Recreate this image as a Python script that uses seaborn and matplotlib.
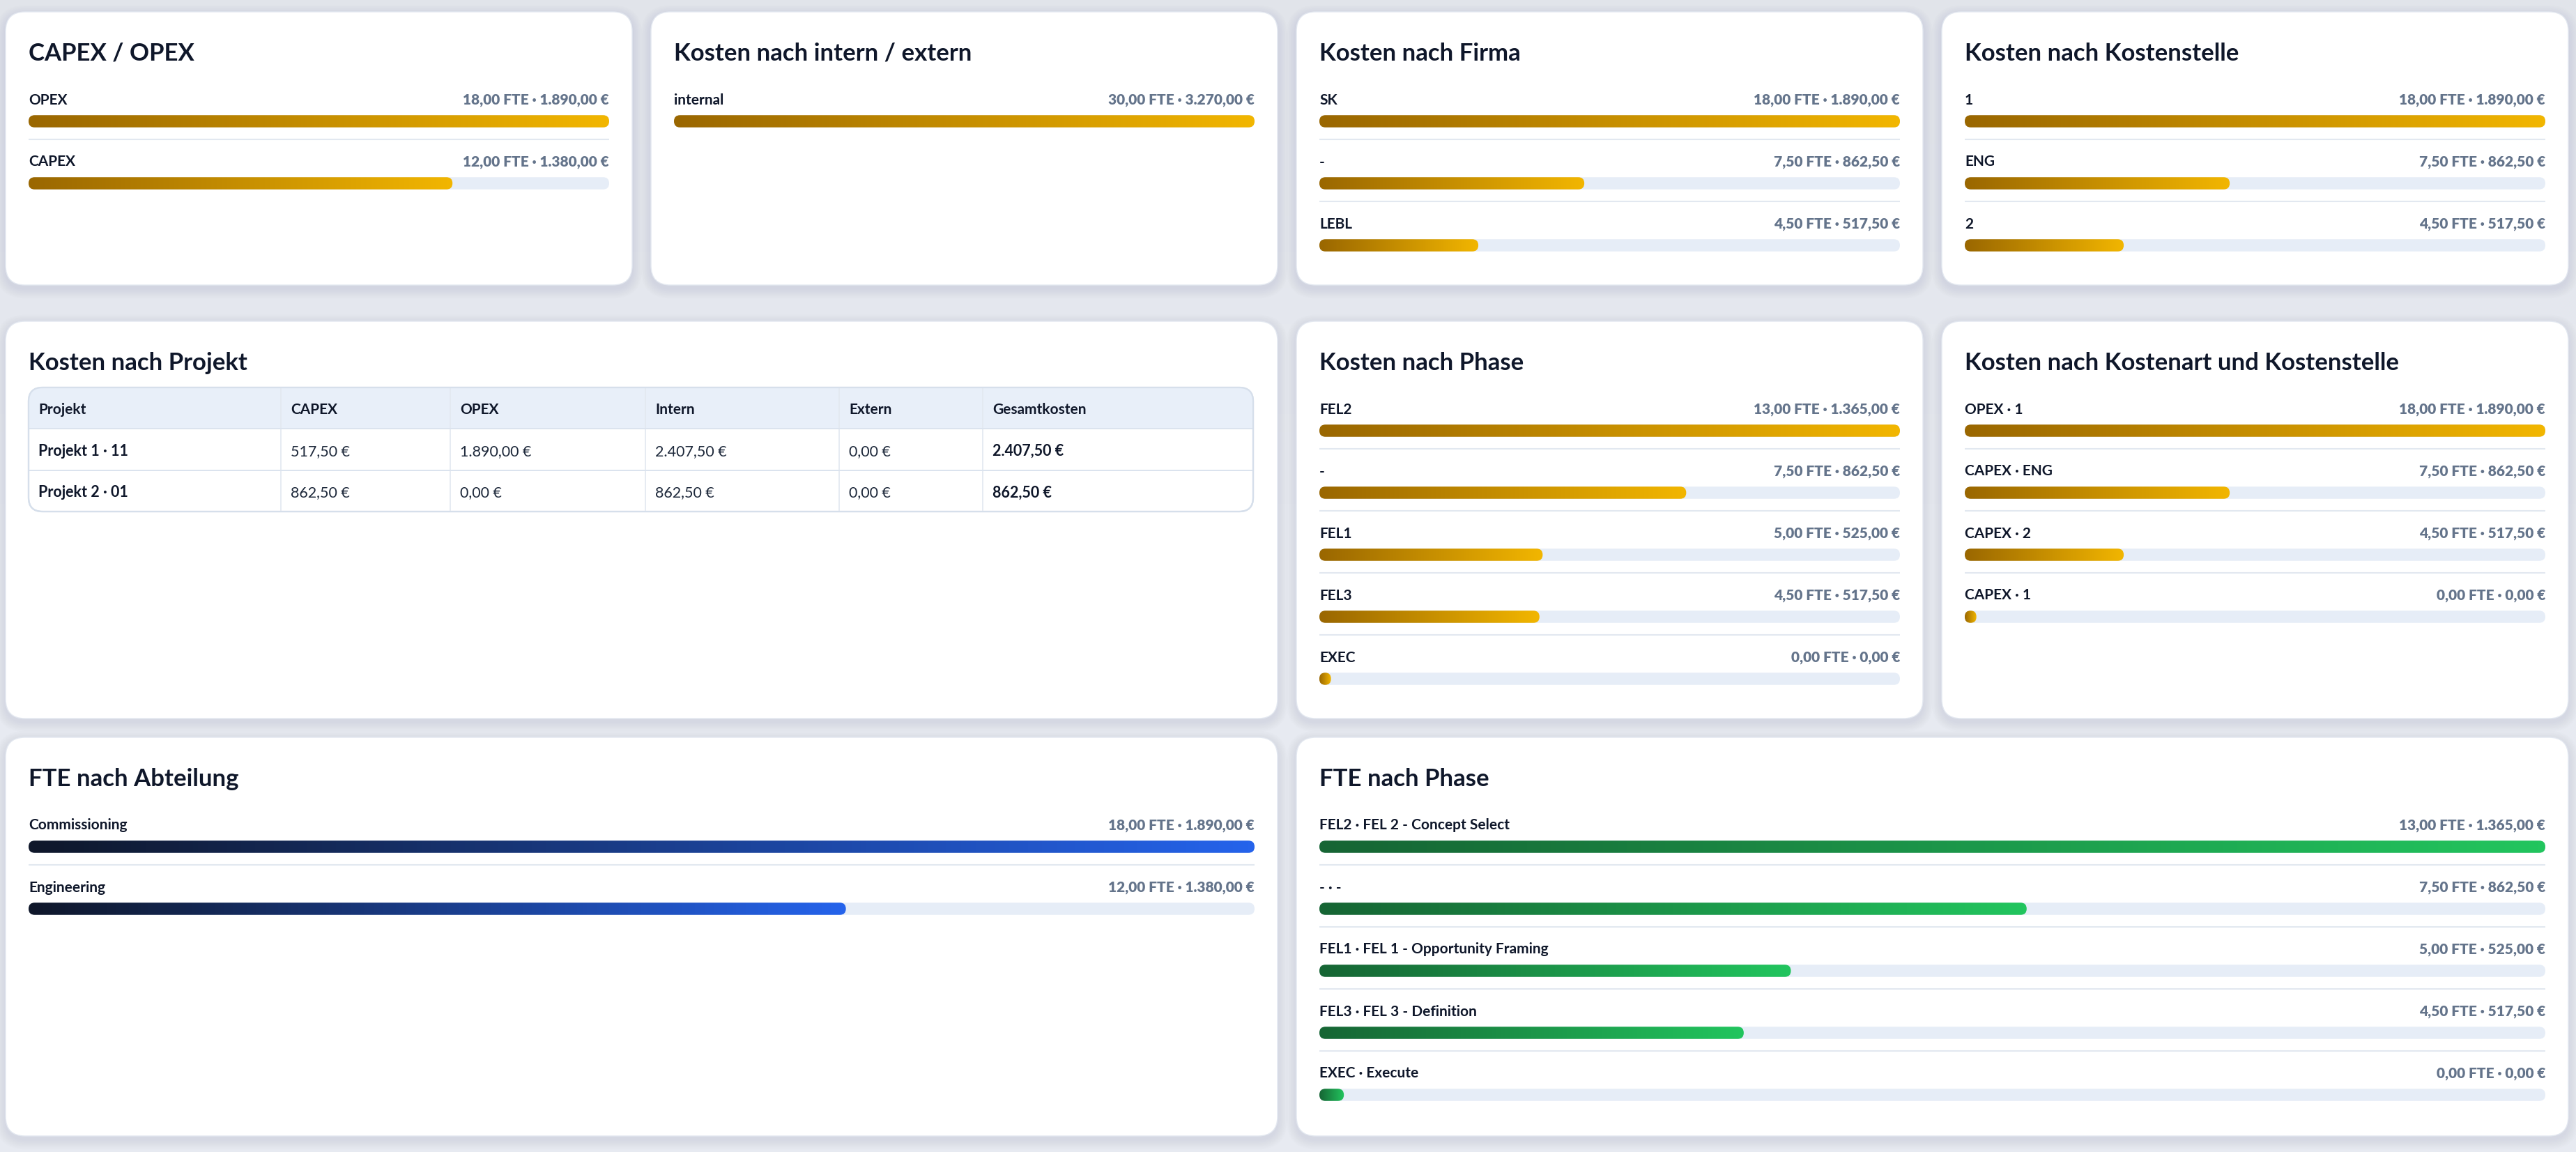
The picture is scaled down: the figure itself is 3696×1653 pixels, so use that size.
import numpy as np
import pandas as pd
import matplotlib
matplotlib.use("Agg")
import matplotlib.pyplot as plt
import seaborn as sns
from matplotlib.patches import FancyBboxPatch, Rectangle
from matplotlib.colors import LinearSegmentedColormap

# ---------------- data ----------------
capex_opex_labels = ["OPEX", "CAPEX"]
capex_opex_fte = [18.0, 12.0]
capex_opex_cost = [1890.0, 1380.0]

intern_labels = ["internal"]
intern_fte = [30.0]
intern_cost = [3270.0]

firma_labels = ["SK", "-", "LEBL"]
firma_fte = [18.0, 7.5, 4.5]
firma_cost = [1890.0, 862.5, 517.5]

kst_labels = ["1", "ENG", "2"]
kst_fte = [18.0, 7.5, 4.5]
kst_cost = [1890.0, 862.5, 517.5]

phase_labels = ["FEL2", "-", "FEL1", "FEL3", "EXEC"]
phase_fte = [13.0, 7.5, 5.0, 4.5, 0.0]
phase_cost = [1365.0, 862.5, 525.0, 517.5, 0.0]

kostenart_labels = ["OPEX · 1", "CAPEX · ENG", "CAPEX · 2", "CAPEX · 1"]
kostenart_fte = [18.0, 7.5, 4.5, 0.0]
kostenart_cost = [1890.0, 862.5, 517.5, 0.0]

abt_labels = ["Commissioning", "Engineering"]
abt_fte = [18.0, 12.0]
abt_cost = [1890.0, 1380.0]

fte_phase_labels = ["FEL2 · FEL 2 - Concept Select", "- · -",
                    "FEL1 · FEL 1 - Opportunity Framing",
                    "FEL3 · FEL 3 - Definition", "EXEC · Execute"]
fte_phase_fte = [13.0, 7.5, 5.0, 4.5, 0.0]
fte_phase_cost = [1365.0, 862.5, 525.0, 517.5, 0.0]

table_columns = ["Projekt", "CAPEX", "OPEX", "Intern", "Extern", "Gesamtkosten"]
table_projects = ["Projekt 1 · 11", "Projekt 2 · 01"]
table_capex = [517.5, 862.5]
table_opex = [1890.0, 0.0]
table_intern = [2407.5, 862.5]
table_extern = [0.0, 0.0]
table_total = [2407.5, 862.5]

# ---------------- style ----------------
sns.set_theme(style="white")
plt.rcParams['font.family'] = ['Lato', 'DejaVu Sans']

W, H = 3696, 1653
TITLE_C = "#0f172a"
LABEL_C = "#0f172a"
VALUE_C = "#64748b"
TRACK_C = "#e6edf7"
SEP_C = "#e2e8f0"
PITCH = 89.0
BH_PX = 17.5
BH = BH_PX / PITCH

gold = LinearSegmentedColormap.from_list("gold", ["#9a6700", "#f2b600"])
green = LinearSegmentedColormap.from_list("green", ["#166534", "#22c55e"])
blue = LinearSegmentedColormap.from_list("blue", ["#0f172a", "#2563eb"])


def de(v):
    s = f"{v:,.2f}"
    return s.replace(",", "X").replace(".", ",").replace("X", ".")


fig = plt.figure(figsize=(W / 100, H / 100), dpi=100)
fig.patch.set_facecolor("#e8ebf1")
bg = fig.add_axes([0, 0, 1, 1])
bg.imshow(np.linspace(0, 1, 64).reshape(-1, 1), extent=[0, W, H, 0],
          cmap=LinearSegmentedColormap.from_list("bgc", ["#e1e4ea", "#e8ebf2", "#e7eaf1"]),
          aspect="auto", zorder=0)
bg.set_xlim(0, W)
bg.set_ylim(H, 0)
bg.axis("off")


def card(x, y, w, h):
    for k in range(1, 10):
        s = FancyBboxPatch((x - k * 1.6, y - k * 1.6 + 5), w + k * 3.2, h + k * 3.2,
                           boxstyle=f"round,pad=0,rounding_size={28 + k * 1.6}",
                           fc="#475569", ec="none", alpha=0.007, zorder=1)
        bg.add_patch(s)
    c = FancyBboxPatch((x, y), w, h, boxstyle="round,pad=0,rounding_size=28",
                       fc="white", ec="#e3e8f0", lw=1.0, zorder=2)
    bg.add_patch(c)


def title(x, y, t):
    bg.text(x + 33, y + 70, t, fontsize=25, fontweight="bold", color=TITLE_C,
            ha="left", va="baseline", zorder=5)


def bar_card(cx, cy, cw, ch, ttl, labels, fte, cost, metric, cmap):
    card(cx, cy, cw, ch)
    title(cx, cy, ttl)
    n = len(labels)
    tl = cx + 33
    tw = cw - 66
    first = cy + 157
    top_px = first - PITCH / 2
    ax = fig.add_axes([tl / W, 1 - (top_px + n * PITCH) / H, tw / W, n * PITCH / H])
    ax.set_facecolor("none")
    vals = np.array(fte if metric == "fte" else cost, dtype=float)
    vmax = vals.max()
    shown = np.maximum(vals, 0.02 * vmax)
    df = pd.DataFrame({"label": labels, "track": [vmax] * n, "shown": shown})
    sns.barplot(data=df, x="track", y="label", order=labels, orient="h", width=BH,
                color=TRACK_C, saturation=1, errorbar=None, ax=ax)
    tracks = list(ax.patches)
    sns.barplot(data=df, x="shown", y="label", order=labels, orient="h", width=BH,
                color=cmap(1.0), saturation=1, errorbar=None, ax=ax)
    fills = list(ax.patches)[len(tracks):]
    xpp = vmax / tw
    asp = (1.0 / PITCH) / xpp
    for p in tracks:
        x0, y0, w, h = p.get_x(), p.get_y(), p.get_width(), p.get_height()
        p.remove()
        r = min(BH_PX / 2 * xpp, w / 2)
        ax.add_patch(FancyBboxPatch((x0, y0), w, h, boxstyle=f"round,pad=0,rounding_size={r}",
                                    mutation_aspect=asp, fc=TRACK_C, ec="none", zorder=1))
    for p in fills:
        x0, y0, w, h = p.get_x(), p.get_y(), p.get_width(), p.get_height()
        p.remove()
        r = min(BH_PX / 2 * xpp, w / 2)
        clip = FancyBboxPatch((x0, y0), w, h, boxstyle=f"round,pad=0,rounding_size={r}",
                              mutation_aspect=asp, fc="none", ec="none", zorder=1)
        ax.add_patch(clip)
        im = ax.imshow(np.linspace(0, 1, 256).reshape(1, -1), extent=[x0, x0 + w, y0 + h, y0],
                       cmap=cmap, aspect="auto", interpolation="bilinear", zorder=2)
        im.set_clip_path(clip)
    for i in range(n):
        ax.text(0, i - 24.5 / PITCH, labels[i], fontsize=15, fontweight="bold",
                color=LABEL_C, ha="left", va="baseline")
        ax.text(vmax, i - 24.5 / PITCH, f"{de(fte[i])} FTE · {de(cost[i])} €", fontsize=15,
                fontweight="heavy", color=VALUE_C, ha="right", va="baseline")
        if i < n - 1:
            ax.plot([0, vmax], [i + 26 / PITCH] * 2, color=SEP_C, lw=1.5, zorder=0,
                    solid_capstyle="butt")
    ax.set_xlim(0, vmax)
    ax.set_ylim(n - 0.5, -0.5)
    ax.axis("off")


# ---------------- layout ----------------
COLS = [8, 934, 1860, 2786]
CW = 899
WIDE = 1825
R1, R1H = 17, 392
R2, R2H = 461, 570
R3, R3H = 1058, 572

bar_card(COLS[0], R1, CW, R1H, "CAPEX / OPEX", capex_opex_labels, capex_opex_fte, capex_opex_cost, "cost", gold)
bar_card(COLS[1], R1, CW, R1H, "Kosten nach intern / extern", intern_labels, intern_fte, intern_cost, "cost", gold)
bar_card(COLS[2], R1, CW, R1H, "Kosten nach Firma", firma_labels, firma_fte, firma_cost, "cost", gold)
bar_card(COLS[3], R1, CW, R1H, "Kosten nach Kostenstelle", kst_labels, kst_fte, kst_cost, "cost", gold)
bar_card(COLS[2], R2, CW, R2H, "Kosten nach Phase", phase_labels, phase_fte, phase_cost, "cost", gold)
bar_card(COLS[3], R2, CW, R2H, "Kosten nach Kostenart und Kostenstelle", kostenart_labels, kostenart_fte, kostenart_cost, "cost", gold)
bar_card(COLS[0], R3, WIDE, R3H, "FTE nach Abteilung", abt_labels, abt_fte, abt_cost, "fte", blue)
bar_card(COLS[2], R3, WIDE, R3H, "FTE nach Phase", fte_phase_labels, fte_phase_fte, fte_phase_cost, "fte", green)

# ---------------- table card ----------------
card(COLS[0], R2, WIDE, R2H)
title(COLS[0], R2, "Kosten nach Projekt")
tx0, tx1 = COLS[0] + 33, COLS[0] + WIDE - 35
ty0, th_head, th_row = 556, 59, 59.5
col_edges = [tx0, 403, 646, 926, 1204, 1410, tx1]
ty1 = ty0 + th_head + th_row * len(table_projects)
outer = FancyBboxPatch((tx0, ty0), tx1 - tx0, ty1 - ty0, boxstyle="round,pad=0,rounding_size=20",
                       fc="white", ec="#d6dfeb", lw=1.6, zorder=3)
bg.add_patch(outer)
head = Rectangle((tx0, ty0), tx1 - tx0, th_head, fc="#e8eff9", ec="none", zorder=4)
bg.add_patch(head)
head.set_clip_path(outer)
for xe in col_edges[1:-1]:
    ln, = bg.plot([xe, xe], [ty0, ty1], color="#e2e8f0", lw=1.2, zorder=5)
    ln.set_clip_path(outer)
for k in range(len(table_projects)):
    yl = ty0 + th_head + th_row * k
    ln, = bg.plot([tx0, tx1], [yl, yl], color="#dbe3ee", lw=1.4, zorder=5)
    ln.set_clip_path(outer)
bg.add_patch(FancyBboxPatch((tx0, ty0), tx1 - tx0, ty1 - ty0, boxstyle="round,pad=0,rounding_size=20",
                            fc="none", ec="#d6dfeb", lw=1.6, zorder=6))
for j, c in enumerate(table_columns):
    bg.text(col_edges[j] + 14, ty0 + th_head / 2 + 9, c, fontsize=15, fontweight="bold",
            color=TITLE_C, ha="left", va="baseline", zorder=7)
rows_vals = list(zip(table_projects, table_capex, table_opex, table_intern, table_extern, table_total))
for k, row in enumerate(rows_vals):
    yc = ty0 + th_head + th_row * k + th_row / 2 + 9
    for j, v in enumerate(row):
        txt = v if j == 0 else f"{de(v)} €"
        bold = j == 0 or j == len(row) - 1
        bg.text(col_edges[j] + 14, yc, txt, fontsize=15.5,
                fontweight="bold" if bold else "normal",
                color="#0f172a" if bold else "#1e293b", ha="left", va="baseline", zorder=7)

fig.savefig("out.png", dpi=100, facecolor=fig.get_facecolor())
